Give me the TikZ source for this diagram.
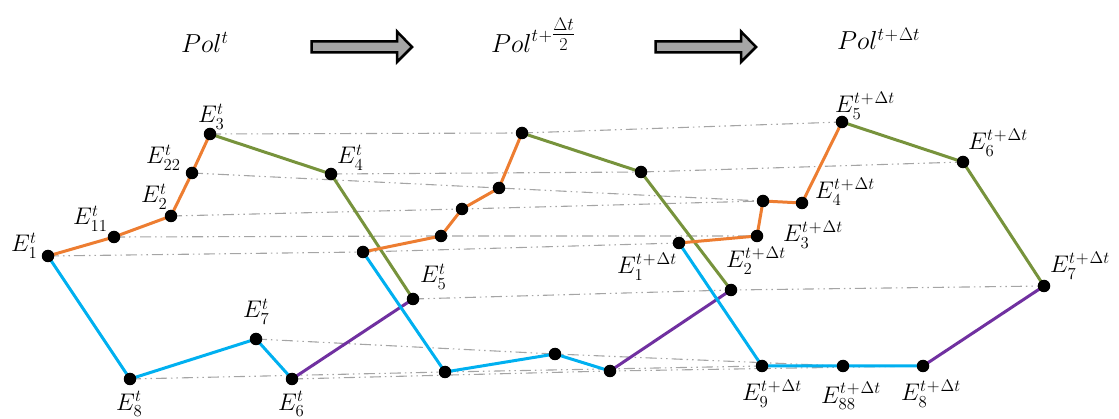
\RequirePackage{fix-cm}
\documentclass[tikz,border=0pt]{standalone}
\usepackage{amsmath}
\definecolor{cOr}{RGB}{237,125,49}
\definecolor{cGr}{RGB}{119,147,60}
\definecolor{cBl}{RGB}{0,176,240}
\definecolor{cPu}{RGB}{112,48,160}
\definecolor{cDash}{RGB}{165,165,165}
\definecolor{cArr}{RGB}{166,166,166}
\pgfdeclarelayer{bg}
\pgfsetlayers{bg,main}
\newcommand{\tdt}{t\mkern1mu+\mkern1mu\Delta t}
\begin{document}
\begin{tikzpicture}[x=1pt,y=-1pt,
  pt/.style={circle,fill=black,inner sep=0pt,minimum size=12.5pt},
  lab/.style={anchor=base west,inner sep=0pt,font=\fontsize{24}{28}\selectfont},
  ttl/.style={anchor=base west,inner sep=0pt,font=\fontsize{26}{30}\selectfont},
  guide/.style={draw=cDash,line width=1.1pt,dash pattern=on 11pt off 4pt on 1.5pt off 4pt on 1.5pt off 4pt},
  edge/.style={line width=3pt},
  blockarrow/.style={draw=black,line width=2.5pt,fill=cArr,line join=miter}]
\useasboundingbox (0,0) rectangle (1119,419);
% ---- left polygon
\node[pt] (a1) at (48,256) {};
\node[pt] (a11) at (114,237) {};
\node[pt] (a2) at (171,216) {};
\node[pt] (a22) at (192,173) {};
\node[pt] (a3) at (210,134) {};
\node[pt] (a4) at (331,174) {};
\node[pt] (a5) at (413,299) {};
\node[pt] (a6) at (292,379) {};
\node[pt] (a7) at (256,339) {};
\node[pt] (a8) at (130,379) {};
% ---- middle polygon
\node[pt] (b1) at (363,252) {};
\node[pt] (b11) at (441,236) {};
\node[pt] (b2) at (462,209) {};
\node[pt] (b22) at (499,188) {};
\node[pt] (b3) at (522,133) {};
\node[pt] (b4) at (641,172) {};
\node[pt] (b5) at (731,290) {};
\node[pt] (b6) at (610,371) {};
\node[pt] (b7) at (555,354) {};
\node[pt] (b8) at (445,372) {};
% ---- right polygon
\node[pt] (c1) at (679,243) {};
\node[pt] (c2) at (757,236) {};
\node[pt] (c3) at (763,201) {};
\node[pt] (c4) at (802,203) {};
\node[pt] (c5) at (842,122) {};
\node[pt] (c6) at (963,162) {};
\node[pt] (c7) at (1044,286) {};
\node[pt] (c8) at (923,366) {};
\node[pt] (c88) at (843,366) {};
\node[pt] (c9) at (762,366) {};
\begin{pgfonlayer}{bg}
% guides
\foreach \l/\m/\r in {1/1/1,11/11/2,2/2/3,22/22/4,3/3/5,4/4/6,5/5/7,6/6/8,7/7/88,8/8/9}{
  \draw[guide] (a\l.center) -- (b\m.center) -- (c\r.center);
}
% edges
\draw[edge,cOr] (a1.center) -- (a11.center) -- (a2.center) -- (a22.center) -- (a3.center);
\draw[edge,cGr] (a3.center) -- (a4.center) -- (a5.center);
\draw[edge,cPu] (a5.center) -- (a6.center);
\draw[edge,cBl] (a6.center) -- (a7.center) -- (a8.center) -- (a1.center);
\draw[edge,cOr] (b1.center) -- (b11.center) -- (b2.center) -- (b22.center) -- (b3.center);
\draw[edge,cGr] (b3.center) -- (b4.center) -- (b5.center);
\draw[edge,cPu] (b5.center) -- (b6.center);
\draw[edge,cBl] (b6.center) -- (b7.center) -- (b8.center) -- (b1.center);
\draw[edge,cOr] (c1.center) -- (c2.center) -- (c3.center) -- (c4.center) -- (c5.center);
\draw[edge,cGr] (c5.center) -- (c6.center) -- (c7.center);
\draw[edge,cPu] (c7.center) -- (c8.center);
\draw[edge,cBl] (c8.center) -- (c88.center) -- (c9.center) -- (c1.center);
\end{pgfonlayer}
% ---- labels
\node[lab] (la1) at (11,252) {$E_1^t$};
\node[lab] (la11) at (73,225) {$E_{11}^t$};
\node[lab] (la2) at (141,203) {$E_2^t$};
\node[lab] (la22) at (146,164) {$E_{22}^t$};
\node[lab] (la3) at (198,123) {$E_3^t$};
\node[lab] (la4) at (337,164) {$E_4^t$};
\node[lab] (la5) at (420,283) {$E_5^t$};
\node[lab] (la7) at (243,318) {$E_7^t$};
\node[lab] (la8) at (116,410) {$E_8^t$};
\node[lab] (la6) at (278,410) {$E_6^t$};
\node[lab] (lc1) at (617,274) {$E_1^{\tdt}$};
\node[lab] (lc2) at (726,268) {$E_2^{\tdt}$};
\node[lab] (lc3) at (783,242) {$E_3^{\tdt}$};
\node[lab] (lc4) at (815,199) {$E_4^{\tdt}$};
\node[lab] (lc5) at (835,113) {$E_5^{\tdt}$};
\node[lab] (lc6) at (968,150) {$E_6^{\tdt}$};
\node[lab] (lc7) at (1050,273) {$E_7^{\tdt}$};
\node[lab] (lc9) at (742,401) {$E_9^{\tdt}$};
\node[lab] (lc88) at (821,403) {$E_{88}^{\tdt}$};
\node[lab] (lc8) at (901,401) {$E_8^{\tdt}$};
% ---- titles
\node[ttl] (t1) at (181,53) {$Pol^t$};
\node[ttl] (t2) at (491,53) {$Pol^{t\mkern1mu+\genfrac{}{}{}{1}{\Delta t}{2}}$};
\node[ttl] (t3) at (837,50) {$Pol^{\tdt}$};
% ---- block arrows
\draw[blockarrow] (311.5,41.5) -- (397,41.5) -- (397,31.5) -- (412,47) -- (397,62) -- (397,52.5) -- (311.5,52.5) -- cycle;
\draw[blockarrow] (655.5,41.5) -- (741,41.5) -- (741,31.5) -- (756,47) -- (741,62) -- (741,52.5) -- (655.5,52.5) -- cycle;
\end{tikzpicture}
\end{document}
